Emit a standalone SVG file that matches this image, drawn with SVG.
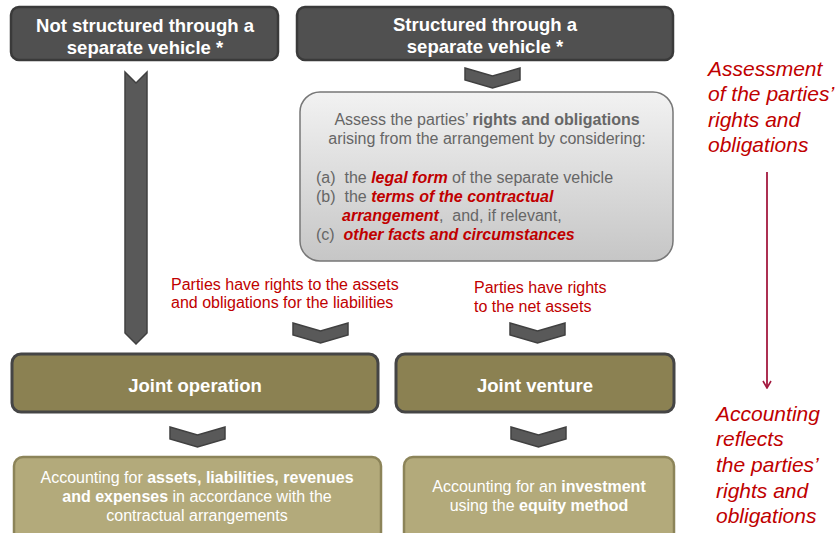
<svg xmlns="http://www.w3.org/2000/svg" width="840" height="533" viewBox="0 0 840 533">
<defs>
<linearGradient id="gGray" x1="0" y1="0" x2="0" y2="1">
<stop offset="0" stop-color="#f2f2f2"/>
<stop offset="1" stop-color="#c6c6c6"/>
</linearGradient>
<marker id="ah" viewBox="0 0 10 10" refX="9" refY="5" markerWidth="10" markerHeight="10" markerUnits="userSpaceOnUse" orient="auto">
<path d="M2,1 L9,5 L2,9" fill="none" stroke="#a3193f" stroke-width="1.6"/>
</marker>
<path id="chev" d="M0,0 L27.5,8 L55,0 L55,12 L27.5,20 L0,12 Z"/>
</defs>
<style>
.dark{fill:#505050;stroke:#3a3a3a;stroke-width:2.5}
.olive{fill:#8b8152;stroke:#454545;stroke-width:3}
.light{fill:#b3aa7b;stroke:#8c8459;stroke-width:2.5}
.gray{fill:url(#gGray);stroke:#777;stroke-width:1.5}
.chev{fill:#595959;stroke:#404040;stroke-width:1.5}
.t{font-family:"Liberation Sans",Arial,sans-serif;white-space:pre}
.title{font-size:18.5px;font-weight:bold;fill:#fff;text-anchor:middle}
.body{font-size:16px;fill:#666}
.w{font-size:16px;fill:#fff;text-anchor:middle}
.red{font-size:16px;fill:#c00000}
.redi{font-weight:bold;font-style:italic;fill:#c00000}
.side{font-size:21px;font-style:italic;fill:#c00000}
</style>
<g id="node-not-structured">
<rect class="dark" x="11" y="7" width="267" height="53" rx="8"/>
<text class="t title" x="145" y="32">Not structured through a</text>
<text class="t title" x="145" y="54">separate vehicle *</text>
</g>
<g id="node-structured">
<rect class="dark" x="297" y="7" width="376" height="53" rx="8"/>
<text class="t title" x="485" y="31">Structured through a</text>
<text class="t title" x="485" y="53">separate vehicle *</text>
</g>
<g id="node-assess">
<rect class="gray" x="300" y="92" width="373" height="169" rx="20"/>
<text class="t body" x="487" y="125" text-anchor="middle">Assess the parties’ <tspan font-weight="bold">rights and obligations</tspan></text>
<text class="t body" x="487" y="144" text-anchor="middle">arising from the arrangement by considering:</text>
<text class="t body" x="316" y="183">(a)  the <tspan class="redi">legal form</tspan> of the separate vehicle</text>
<text class="t body" x="316" y="202">(b)  the <tspan class="redi">terms of the contractual</tspan></text>
<text class="t body" x="342" y="221"><tspan class="redi">arrangement</tspan>,  and, if relevant,</text>
<text class="t body" x="316" y="240">(c)  <tspan class="redi">other facts and circumstances</tspan></text>
</g>
<g id="node-joint-operation">
<rect class="olive" x="12" y="354" width="366" height="58" rx="9"/>
<text class="t title" x="195" y="392">Joint operation</text>
</g>
<g id="node-joint-venture">
<rect class="olive" x="396" y="354" width="278" height="58" rx="9"/>
<text class="t title" x="535" y="392">Joint venture</text>
</g>
<g id="node-acc-operation">
<rect class="light" x="14" y="457" width="367" height="84" rx="9"/>
<text class="t w" x="197" y="483">Accounting for <tspan font-weight="bold">assets, liabilities, revenues</tspan></text>
<text class="t w" x="197" y="502"><tspan font-weight="bold">and expenses</tspan> in accordance with the</text>
<text class="t w" x="197" y="521">contractual arrangements</text>
</g>
<g id="node-acc-venture">
<rect class="light" x="404" y="457" width="270" height="84" rx="9"/>
<text class="t w" x="539" y="492">Accounting for an <tspan font-weight="bold">investment</tspan></text>
<text class="t w" x="539" y="511">using the <tspan font-weight="bold">equity method</tspan></text>
</g>
<g id="connectors">
<path class="chev" d="M125,72 L136,83 L147,72 L147,333 L136,344 L125,333 Z"/>
<use href="#chev" class="chev" x="465" y="68"/>
<use href="#chev" class="chev" x="293" y="323"/>
<use href="#chev" class="chev" x="510" y="323"/>
<use href="#chev" class="chev" x="170" y="427"/>
<use href="#chev" class="chev" x="511" y="427"/>
<text class="t red" x="171" y="290">Parties have rights to the assets</text>
<text class="t red" x="171" y="308">and obligations for the liabilities</text>
<text class="t red" x="474" y="293">Parties have rights</text>
<text class="t red" x="474" y="312">to the net assets</text>
<line x1="767" y1="172" x2="767" y2="388" stroke="#a3193f" stroke-width="1.8" marker-end="url(#ah)"/>
</g>
<g id="side-labels">
<text class="t side" x="708" y="76">Assessment</text>
<text class="t side" x="708" y="101">of the parties’</text>
<text class="t side" x="708" y="127">rights and</text>
<text class="t side" x="708" y="152">obligations</text>
<text class="t side" x="716" y="421">Accounting</text>
<text class="t side" x="716" y="446">reflects</text>
<text class="t side" x="716" y="472">the parties’</text>
<text class="t side" x="716" y="498">rights and</text>
<text class="t side" x="716" y="523">obligations</text>
</g>
</svg>
